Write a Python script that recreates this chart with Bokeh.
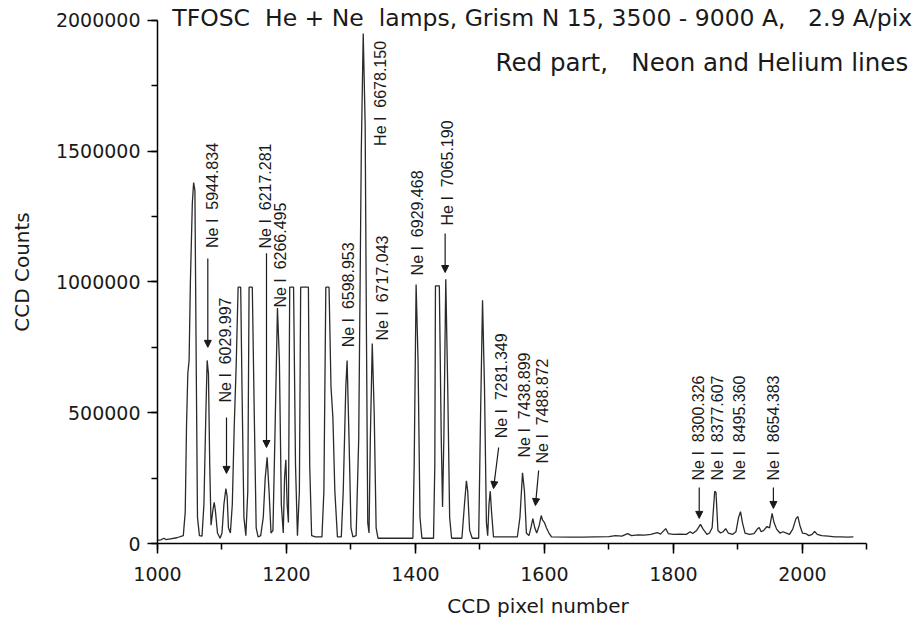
import math
from bokeh.plotting import figure
from bokeh.models import (Label, Arrow, NormalHead, FixedTicker, BasicTickFormatter,
                          ColumnDataSource)
from bokeh.core.properties import value
from bokeh.embed import file_html
from bokeh.resources import INLINE

# ---- spectrum (CCD pixel number, CCD counts) ----
pixel = [1000, 1005, 1010, 1013, 1020, 1030, 1040, 1043, 1045, 1047, 1049, 1051, 1054, 1056,
         1058, 1060, 1062, 1065, 1069, 1072, 1075, 1077, 1079, 1081, 1083, 1086, 1088, 1090,
         1093, 1097, 1100, 1103, 1106, 1108, 1110, 1113, 1116, 1119, 1122, 1125, 1129, 1131,
         1134, 1137, 1140, 1142, 1147, 1150, 1153, 1156, 1160, 1164, 1167, 1170, 1173, 1176,
         1179, 1182, 1186, 1189, 1192, 1195, 1197, 1199, 1201, 1203, 1205, 1211, 1214, 1217,
         1220, 1222, 1234, 1236, 1239, 1245, 1255, 1258, 1261, 1266, 1269, 1272, 1275, 1279,
         1285, 1288, 1292, 1294, 1297, 1300, 1303, 1308, 1312, 1316, 1319, 1322, 1324, 1326,
         1328, 1330, 1333, 1336, 1339, 1342, 1360, 1380, 1396, 1398, 1401, 1404, 1407, 1410,
         1428, 1430, 1431, 1437, 1440, 1442, 1444, 1447, 1450, 1453, 1456, 1472, 1476, 1479,
         1481, 1484, 1488, 1498, 1501, 1504, 1507, 1510, 1512, 1514, 1516, 1518, 1521, 1558,
         1562, 1566, 1569, 1572, 1576, 1579, 1582, 1585, 1588, 1592, 1595, 1597, 1600, 1603,
         1607, 1611, 1640, 1660, 1680, 1700, 1710, 1720, 1729, 1735, 1745, 1755, 1765, 1775,
         1780, 1788, 1792, 1800, 1810, 1820, 1826, 1830, 1836, 1842, 1846, 1852, 1856, 1860,
         1864, 1866, 1869, 1873, 1877, 1881, 1885, 1892, 1897, 1901, 1904, 1907, 1911, 1918,
         1925, 1930, 1933, 1936, 1940, 1945, 1949, 1953, 1956, 1960, 1965, 1970, 1975, 1980,
         1985, 1990, 1993, 1996, 2000, 2005, 2010, 2015, 2019, 2023, 2030, 2040, 2050, 2060,
         2070, 2079]
counts = [12000, 14000, 20000, 15000, 18000, 22000, 30000, 120000, 450000, 650000, 700000,
          1000000, 1300000, 1380000, 1350000, 700000, 100000, 30000, 28000, 150000, 500000,
          700000, 650000, 300000, 70000, 130000, 157000, 120000, 40000, 20000, 40000, 150000,
          210000, 180000, 60000, 40000, 150000, 450000, 680000, 980000, 980000, 600000, 100000,
          30000, 200000, 980000, 980000, 500000, 60000, 25000, 30000, 100000, 250000, 330000,
          200000, 40000, 50000, 400000, 900000, 700000, 150000, 40000, 250000, 320000, 150000,
          80000, 980000, 980000, 300000, 30000, 200000, 980000, 980000, 300000, 30000, 25000,
          25000, 200000, 980000, 980000, 600000, 480000, 200000, 25000, 25000, 200000, 600000,
          700000, 400000, 60000, 25000, 30000, 400000, 1500000, 1950000, 1600000, 800000,
          80000, 40000, 400000, 765000, 500000, 60000, 20000, 20000, 20000, 20000, 300000,
          990000, 700000, 100000, 20000, 20000, 300000, 985000, 985000, 400000, 140000, 400000,
          1010000, 600000, 100000, 20000, 20000, 150000, 240000, 200000, 50000, 20000, 20000,
          500000, 930000, 600000, 80000, 30000, 150000, 200000, 120000, 25000, 25000, 100000,
          270000, 200000, 40000, 30000, 60000, 95000, 60000, 40000, 70000, 107000, 90000,
          80000, 60000, 40000, 25000, 24000, 24000, 25000, 26000, 30000, 28000, 38000, 30000,
          33000, 32000, 35000, 42000, 36000, 57000, 38000, 35000, 36000, 35000, 45000, 38000,
          50000, 73000, 55000, 35000, 40000, 60000, 200000, 195000, 50000, 40000, 45000, 57000,
          40000, 35000, 45000, 100000, 122000, 80000, 40000, 35000, 38000, 55000, 61000, 45000,
          50000, 65000, 60000, 115000, 80000, 55000, 40000, 45000, 40000, 35000, 55000, 95000,
          103000, 70000, 40000, 38000, 30000, 35000, 46000, 35000, 30000, 28000, 25000, 25000,
          24000, 25000]

# ---- line identifications ----
line_names = ["Ne I\u00a0 5944.834", "Ne I\u00a0 6029.997", "Ne I\u00a0 6217.281",
              "Ne I\u00a0 6266.495", "Ne I\u00a0 6598.953", "He I\u00a0 6678.150",
              "Ne I\u00a0 6717.043", "Ne I\u00a0 6929.468", "He I\u00a0 7065.190",
              "Ne I\u00a0 7281.349", "Ne I\u00a0 7438.899", "Ne I\u00a0 7488.872",
              "Ne I\u00a0 8300.326", "Ne I\u00a0 8377.607", "Ne I\u00a0 8495.360",
              "Ne I\u00a0 8654.383"]

x_ticks = [1000, 1200, 1400, 1600, 1800, 2000]
y_ticks = [0, 500000, 1000000, 1500000, 2000000]

title_text = "TFOSC\u00a0 He + Ne\u00a0 lamps, Grism N 15, 3500 - 9000 A,\u00a0\u00a0 2.9 A/pix"
subtitle_text = "Red part,\u00a0\u00a0 Neon and Helium lines"

# ---- annotation placement (layout only) ----
label_x = [1085, 1105, 1167, 1191, 1296, 1346, 1349, 1403, 1450, 1533, 1569, 1597,
           1839, 1868, 1902, 1955]
label_y = [1130000, 539000, 1128000, 902000, 750000, 1520000, 776000, 1025000, 1216000,
           402000, 329000, 306000, 241000, 241000, 241000, 241000]
arrows = [(1078, 1090000, 1078, 750000), (1107, 482000, 1107, 268000),
          (1169, 1110000, 1169, 367000), (1446, 1185000, 1446, 1036000),
          (1529, 367000, 1521, 210000), (1591, 279000, 1586, 145000),
          (1840, 214000, 1840, 96000), (1955, 214000, 1955, 134000)]

FONT = "DejaVu Sans"
LFONT = "Liberation Sans"
INK = "#1a1a1a"

p = figure(width=920, height=628, x_range=(1000, 2180), y_range=(0, 2076000),
           output_backend="svg", toolbar_location=None,
           min_border_left=157, min_border_right=2, min_border_top=0,
           min_border_bottom=85)
p.outline_line_color = None
p.grid.visible = False
p.background_fill_color = "white"
p.border_fill_color = "white"

p.line(pixel, counts, line_color="#2a2a2a", line_width=1.3)

# axes
p.xaxis.ticker = FixedTicker(ticks=x_ticks, minor_ticks=list(range(1000, 2101, 100)))
p.yaxis.ticker = FixedTicker(ticks=y_ticks, minor_ticks=list(range(0, 2000001, 250000)))
p.yaxis.formatter = BasicTickFormatter(use_scientific=False)
p.xaxis.bounds = (1000, 2100)
p.yaxis.bounds = (0, 2000000)
for ax in (p.xaxis, p.yaxis):
    ax.axis_line_color = "black"
    ax.axis_line_width = 1.5
    ax.major_tick_line_color = "black"
    ax.major_tick_line_width = 1.5
    ax.minor_tick_line_color = "black"
    ax.minor_tick_line_width = 1.5
    ax.major_tick_in = 0
    ax.major_tick_out = 10
    ax.minor_tick_in = 0
    ax.minor_tick_out = 6
    ax.major_label_text_font = FONT
    ax.major_label_text_font_size = "19px"
    ax.major_label_text_color = INK
    ax.axis_label_text_font = FONT
    ax.axis_label_text_font_size = "20px"
    ax.axis_label_text_font_style = "normal"
    ax.axis_label_text_color = INK
p.xaxis.axis_label = "CCD pixel number"
p.yaxis.axis_label = "CCD Counts"
p.xaxis.major_label_standoff = 13
p.xaxis.axis_label_standoff = 10
p.yaxis.major_label_standoff = 7
p.yaxis.axis_label_standoff = 19

# line labels
src = ColumnDataSource(dict(x=label_x, y=label_y, t=line_names))
p.text(x="x", y="y", text="t", source=src, angle=math.pi / 2,
       text_align="left", text_baseline="middle", text_font=value(LFONT),
       text_font_size="16px", text_color=INK)

for x0, y0, x1, y1 in arrows:
    p.add_layout(Arrow(x_start=x0, y_start=y0, x_end=x1, y_end=y1,
                       line_color=INK, line_width=1.2,
                       end=NormalHead(size=7, fill_color=INK, line_color=INK)))

p.add_layout(Label(x=1023, y=2011000, text=title_text, text_align="left",
                   text_baseline="middle", text_font=FONT, text_font_size="23.5px",
                   text_color=INK))
p.add_layout(Label(x=2164, y=1839000, text=subtitle_text, text_align="right",
                   text_baseline="middle", text_font=FONT, text_font_size="24.5px",
                   text_color=INK))

open("out.html", "w").write(file_html(p, INLINE))
